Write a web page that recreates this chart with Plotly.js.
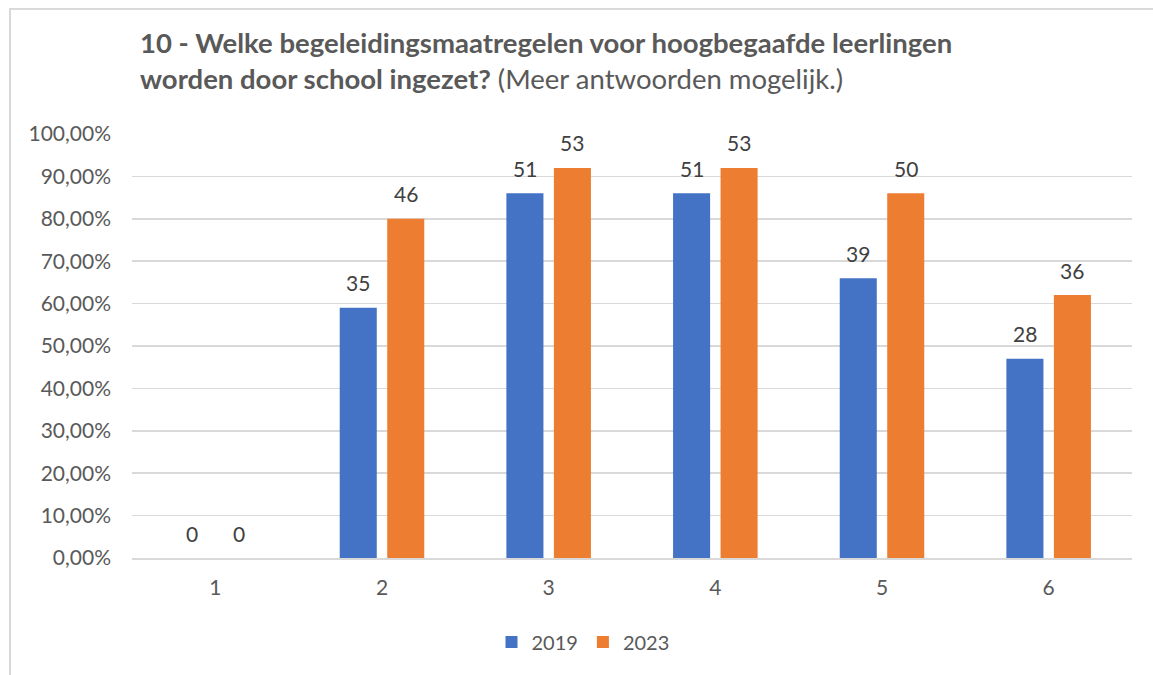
<!DOCTYPE html>
<html>
<head>
<meta charset="utf-8">
<script src="https://cdn.plot.ly/plotly-3.0.1.min.js"></script>
<style>
  html, body { margin: 0; padding: 0; background: #ffffff; overflow: hidden; }
  #chart { width: 1153px; height: 675px; position: absolute; left: 0; top: 0; }
  #frame { position: absolute; left: 9px; top: 8px; width: 1200px; height: 700px;
           border-left: 2px solid #d9d9d9; border-top: 2px solid #d9d9d9; pointer-events: none; }
</style>
</head>
<body>
<div id="chart"></div>
<div id="frame"></div>
<script>
// ---- data ----
const categories = ['1', '2', '3', '4', '5', '6'];
const seriesNames = ['2019', '2023'];
const share2019 = [0, 0.59, 0.86, 0.86, 0.66, 0.47];
const share2023 = [0, 0.80, 0.92, 0.92, 0.86, 0.62];
const count2019 = [0, 35, 51, 51, 39, 28];
const count2023 = [0, 46, 53, 53, 50, 36];
const titleLine1 = '10 - Welke begeleidingsmaatregelen voor hoogbegaafde leerlingen';
const titleLine2Bold = 'worden door school ingezet?';
const titleLine2Rest = ' (Meer antwoorden mogelijk.)';

// ---- style ----
const FONT = 'Lato, "Open Sans", sans-serif';
const W = 1153, H = 675;
const margin = { l: 132, r: 21, t: 134, b: 117, pad: 0 };
const bargap = 0.43, bargroupgap = 0.22;
const colors = ['#4472C4', '#ED7D31'];

const traces = [
  { type: 'bar', name: seriesNames[0], x: categories, y: share2019,
    marker: { color: colors[0] }, hoverinfo: 'skip' },
  { type: 'bar', name: seriesNames[1], x: categories, y: share2023,
    marker: { color: colors[1] }, hoverinfo: 'skip' }
];

// data labels above each bar (counts), positioned by the axis scale
const plotW = W - margin.l - margin.r;
const catPx = plotW / categories.length;
const slotPx = (1 - bargap) * catPx / 2;
const annotations = [];
[[share2019, count2019, -1], [share2023, count2023, 1]].forEach(([vals, counts, side]) => {
  categories.forEach((c, i) => {
    annotations.push({
      x: i, y: vals[i], xref: 'x', yref: 'y',
      text: String(counts[i]), showarrow: false,
      xshift: side * slotPx / 2, yshift: 25, yanchor: 'middle',
      font: { family: FONT, size: 21, color: '#404040' }
    });
  });
});

const layout = {
  width: W, height: H,
  margin: margin,
  paper_bgcolor: '#ffffff', plot_bgcolor: '#ffffff',
  separators: ',.',
  barmode: 'group', bargap: bargap, bargroupgap: bargroupgap,
  title: {
    text: '<b>' + titleLine1 + '<br>' + titleLine2Bold + '</b>' + titleLine2Rest,
    xref: 'container', x: 140 / W, xanchor: 'left',
    yref: 'container', y: 1 - 53 / H, yanchor: 'top',
    font: { family: FONT, size: 27.5, color: '#595959' }
  },
  xaxis: {
    type: 'category', range: [-0.5, categories.length - 0.5],
    showgrid: false, zeroline: false,
    showline: true, linecolor: '#d9d9d9', linewidth: 1.5,
    ticks: '', ticklabelstandoff: 10,
    tickfont: { family: FONT, size: 21, color: '#595959' }
  },
  yaxis: {
    range: [0, 1], dtick: 0.1, tick0: 0, tickformat: '.2%',
    showgrid: true, gridcolor: '#d9d9d9', gridwidth: 1.5,
    zeroline: false, showline: false, ticks: '', ticklabelstandoff: 20,
    tickfont: { family: FONT, size: 21, color: '#595959' }
  },
  showlegend: true,
  legend: {
    orientation: 'h', x: 0.451, xanchor: 'center', y: -0.198, yanchor: 'middle',
    font: { family: FONT, size: 20, color: '#595959' }, bgcolor: 'rgba(0,0,0,0)'
  },
  annotations: annotations
};

Plotly.newPlot('chart', traces, layout, { displayModeBar: false, staticPlot: true });
</script>
</body>
</html>
